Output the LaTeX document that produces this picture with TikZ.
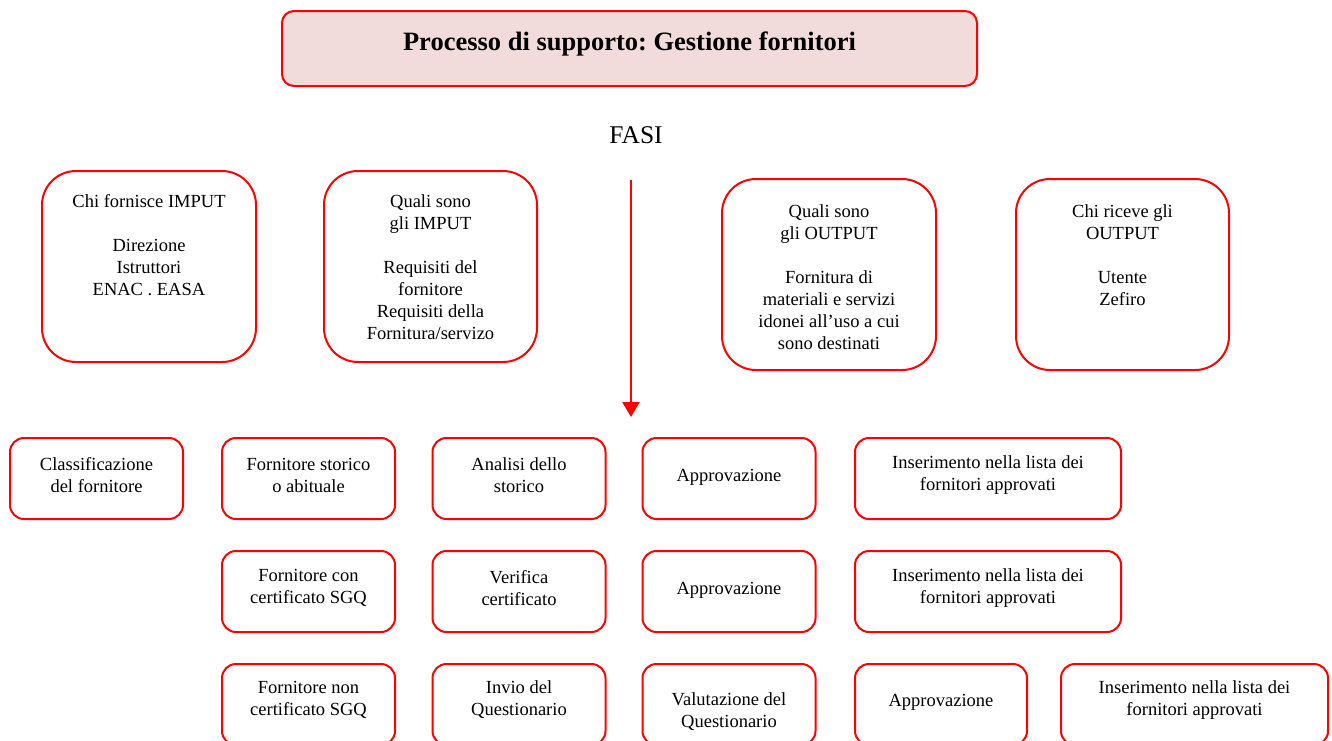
\documentclass[tikz,border=0pt]{standalone}
\usepackage{fontspec}
\setmainfont{Liberation Serif}
\usetikzlibrary{arrows.meta}
\definecolor{boxred}{HTML}{FF0000}
\definecolor{titlefill}{HTML}{F2DCDB}
\frenchspacing
\begin{document}
\begin{tikzpicture}[x=1pt,y=-1pt,
  rbox/.style={draw=boxred, line width=2pt, rounded corners=14pt, minimum width=173pt, minimum height=81pt, inner sep=0pt},
  bigbox/.style={draw=boxred, line width=2pt, rounded corners=34pt, minimum width=214pt, minimum height=191pt, inner sep=0pt},
  titlebox/.style={draw=boxred, line width=2pt, rounded corners=12pt, fill=titlefill, minimum width=695pt, minimum height=75pt, inner sep=0pt},
  txt/.style={font=\fontsize{18.5}{22}\selectfont, align=center, inner sep=0pt},
  toptxt/.style={txt, anchor=north},
  flow/.style={draw=boxred, line width=2.5pt, -{Triangle[width=17pt,length=15pt]}}
]
\useasboundingbox (0,0) rectangle (1332,740);
\fill[white] (0,0) rectangle (1332,740);

% title
\node[titlebox] (title) at (629.5,48.5) {};
\node[font=\bfseries\fontsize{26.5}{30}\selectfont, anchor=base, inner sep=0pt] (titletxt) at (629.5,50) {Processo di supporto: Gestione fornitori};

% FASI
\node[font=\fontsize{25.5}{30}\selectfont, inner sep=0pt, anchor=base] (fasi) at (636,143) {FASI};

% top boxes
\node[bigbox] (b1) at (149,266.5) {};
\node[bigbox, minimum width=213pt] (b2) at (430.5,266.5) {};
\node[bigbox] (b3) at (829,274.5) {};
\node[bigbox, minimum width=213pt] (b4) at (1122.5,274.5) {};

\node[toptxt] (t1) at (149,194) {Chi fornisce IMPUT\\[22pt]Direzione\\Istruttori\\ENAC . EASA};
\node[toptxt] (t2) at (430.5,194) {Quali sono\\gli IMPUT\\[22pt]Requisiti del\\fornitore\\Requisiti della\\Fornitura/servizo};
\node[toptxt] (t3) at (829,204) {Quali sono\\gli OUTPUT\\[22pt]Fornitura di\\materiali e servizi\\idonei all’uso a cui\\sono destinati};
\node[toptxt] (t4) at (1122.5,204) {Chi riceve gli\\OUTPUT\\[22pt]Utente\\Zefiro};

% arrow
\coordinate (atop) at (631,180);
\coordinate (abot) at (631,417);
\draw[flow] (atop) -- (abot);

% row 1
\node[rbox] (r1a) at (96.5,478.5) {};
\node[rbox] (r1b) at (308.5,478.5) {};
\node[rbox] (r1c) at (519,478.5) {};
\node[rbox] (r1d) at (729,478.5) {};
\node[rbox, minimum width=266pt] (r1e) at (988,478.5) {};
\node[txt] (l1a) at (96.5,475) {Classificazione\\del fornitore};
\node[txt] (l1b) at (308.5,475) {Fornitore storico\\o abituale};
\node[txt] (l1c) at (519,475) {Analisi dello\\storico};
\node[txt] (l1d) at (729,477) {Approvazione};
\node[txt] (l1e) at (988,475) {Inserimento nella lista dei\\fornitori approvati};

% row 2
\node[rbox] (r2b) at (308.5,591.5) {};
\node[rbox] (r2c) at (519,591.5) {};
\node[rbox] (r2d) at (729,591.5) {};
\node[rbox, minimum width=266pt] (r2e) at (988,591.5) {};
\node[txt] (l2b) at (308.5,588) {Fornitore con\\certificato SGQ};
\node[txt] (l2c) at (519,588) {Verifica\\certificato};
\node[txt] (l2d) at (729,590) {Approvazione};
\node[txt] (l2e) at (988,588) {Inserimento nella lista dei\\fornitori approvati};

% row 3
\node[rbox] (r3b) at (308.5,704.5) {};
\node[rbox] (r3c) at (519,704.5) {};
\node[rbox] (r3d) at (729,704.5) {};
\node[rbox, minimum width=172pt] (r3e) at (941,704.5) {};
\node[rbox, minimum width=267pt] (r3f) at (1194.5,704.5) {};
\node[txt] (l3b) at (308.5,700) {Fornitore non\\certificato SGQ};
\node[txt] (l3c) at (519,700) {Invio del\\Questionario};
\node[txt] (l3d) at (729,712) {Valutazione del\\Questionario};
\node[txt] (l3e) at (941,702) {Approvazione};
\node[txt] (l3f) at (1194.5,700) {Inserimento nella lista dei\\fornitori approvati};
\end{tikzpicture}
\end{document}
